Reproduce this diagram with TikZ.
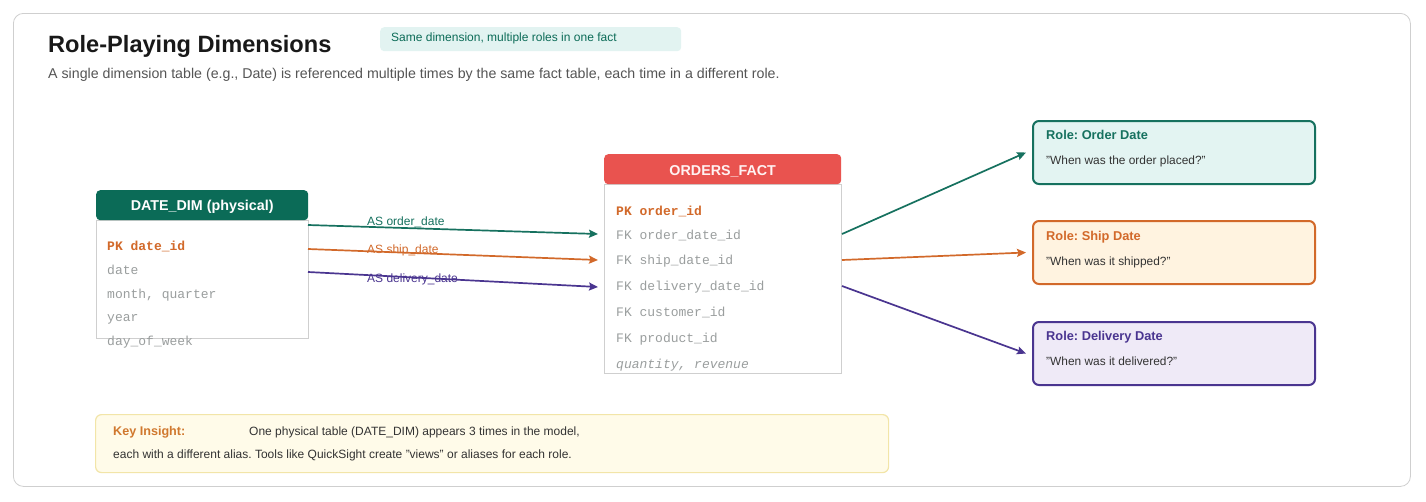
\documentclass[tikz,border=0pt]{standalone}
\usepackage{fontspec}
\setmainfont{Liberation Sans}
\setmonofont{Liberation Mono}
\usetikzlibrary{arrows.meta}
\frenchspacing
\definecolor{tealD}{HTML}{0B6B57}
\definecolor{tealA}{HTML}{16715F}
\definecolor{orangeA}{HTML}{D2692A}
\definecolor{purpleA}{HTML}{4A3590}
\definecolor{redH}{HTML}{E9534F}
\definecolor{rowgray}{HTML}{9A9E9E}
\definecolor{boxgray}{HTML}{CFCFCF}
\definecolor{tagfill}{HTML}{E2F3F1}
\definecolor{tealfill}{HTML}{E3F4F2}
\definecolor{orangefill}{HTML}{FFF3E0}
\definecolor{purplefill}{HTML}{EFEAF7}
\definecolor{keyfill}{HTML}{FFFBE9}
\definecolor{keyborder}{HTML}{F2E5A8}
\definecolor{keytitle}{HTML}{D0782E}
\definecolor{textdark}{HTML}{333333}
\definecolor{subgray}{HTML}{555555}
\tikzset{
  hdr/.style={draw=none, rounded corners=4pt, anchor=north west, inner sep=0pt, text=white, font=\fontsize{14}{16}\selectfont\bfseries},
  tbody/.style={draw=boxgray, fill=white, line width=0.8pt, anchor=north west, inner sep=0pt},
  row/.style={anchor=base west, inner sep=0pt, text=rowgray, font=\fontsize{13}{15}\selectfont\ttfamily},
  pkrow/.style={row, text=orangeA, font=\fontsize{13}{15}\selectfont\ttfamily\bfseries},
  lnk/.style={line width=1.7pt, -{Stealth[length=9pt,width=8pt,inset=1.5pt]}},
  alias/.style={anchor=west, inner sep=0pt, font=\fontsize{12}{14}\selectfont},
  rolebox/.style={line width=2pt, rounded corners=6pt, anchor=north west, inner sep=0pt, minimum width=282pt, minimum height=63pt},
  roletitle/.style={anchor=base west, inner sep=0pt, font=\fontsize{12.8}{14}\selectfont\bfseries},
  roledesc/.style={anchor=base west, inner sep=0pt, text=textdark, font=\fontsize{11.9}{14}\selectfont},
  keytext/.style={anchor=base west, inner sep=0pt, font=\fontsize{12}{14}\selectfont, text=textdark},
}
\begin{document}
\begin{tikzpicture}[x=1pt,y=-1pt]
\useasboundingbox (0,0) rectangle (1426,501);
\fill[white] (0,0) rectangle (1426,501);
\node[draw=boxgray, line width=0.8pt, rounded corners=10pt, anchor=north west, inner sep=0pt, minimum width=1397pt, minimum height=473pt] (frame) at (13,13) {};
% title
\node[anchor=base west, inner sep=0pt, font=\fontsize{23.6}{26}\selectfont\bfseries, text=black!90] (title) at (48,52) {Role-Playing Dimensions};
\node[anchor=base west, inner sep=0pt, font=\fontsize{14.2}{16}\selectfont, text=subgray] (subtitle) at (48,78) {A single dimension table (e.g., Date) is referenced multiple times by the same fact table, each time in a different role.};
\node[fill=tagfill, rounded corners=4pt, anchor=north west, inner sep=0pt, minimum width=301pt, minimum height=24pt] (tag) at (380,27) {};
\node[anchor=base west, inner sep=0pt, font=\fontsize{12}{14}\selectfont, text=tealD] (tagtext) at (391,41) {Same dimension, multiple roles in one fact};
% DATE_DIM
\node[tbody, minimum width=212pt, minimum height=118pt] (dimbody) at (96,220) {};
\node[hdr, fill=tealD, minimum width=212pt, minimum height=30pt] (dimhdr) at (96,190) {};
\node[text=white, font=\fontsize{14.3}{16}\selectfont\bfseries, inner sep=0pt] (dimtitle) at ([yshift=-2pt]dimhdr.center) {DATE\_DIM (physical)};
\node[pkrow] (d1) at (107,250) {PK date\_id};
\node[row] (d2) at (107,274) {date};
\node[row] (d3) at (107,298) {month, quarter};
\node[row] (d4) at (107,321) {year};
\node[row] (d5) at (107,345) {day\_of\_week};
% ORDERS_FACT
\node[tbody, minimum width=237pt, minimum height=189pt] (factbody) at (604,184) {};
\node[hdr, fill=redH, minimum width=237pt, minimum height=30pt] (facthdr) at (604,154) {};
\node[text=white!95!red, font=\fontsize{14.3}{16}\selectfont\bfseries, inner sep=0pt] (facttitle) at ([yshift=-2pt]facthdr.center) {ORDERS\_FACT};
\node[pkrow] (f1) at (616,215) {PK order\_id};
\node[row] (f2) at (616,239) {FK order\_date\_id};
\node[row] (f3) at (616,264) {FK ship\_date\_id};
\node[row] (f4) at (616,290) {FK delivery\_date\_id};
\node[row] (f5) at (616,316) {FK customer\_id};
\node[row] (f6) at (616,342) {FK product\_id};
\node[row, font=\fontsize{13}{15}\selectfont\ttfamily\itshape] (f7) at (616,368) {quantity, revenue};
% link coordinates
\coordinate (ds1) at (308,225);
\coordinate (ds2) at (308,249);
\coordinate (ds3) at (308,272);
\coordinate (ft1) at (598,234);
\coordinate (ft2) at (598,260);
\coordinate (ft3) at (598,287);
\coordinate (fs1) at (842,234);
\coordinate (fs2) at (842,260);
\coordinate (fs3) at (842,286);
\draw[lnk, draw=tealA, fill=tealA] (ds1) -- (ft1);
\draw[lnk, draw=orangeA, fill=orangeA] (ds2) -- (ft2);
\draw[lnk, draw=purpleA, fill=purpleA] (ds3) -- (ft3);
\node[alias, text=tealA] (a1) at (367,222) {AS order\_date};
\node[alias, text=orangeA] (a2) at (367,250) {AS ship\_date};
\node[alias, text=purpleA] (a3) at (367,279) {AS delivery\_date};
% roles
\node[rolebox, draw=tealA, fill=tealfill] (r1) at (1032,120) {};
\node[rolebox, draw=orangeA, fill=orangefill] (r2) at (1032,220) {};
\node[rolebox, draw=purpleA, fill=purplefill] (r3) at (1032,321) {};
\node[roletitle, text=tealA] (r1t) at (1046,139) {Role: Order Date};
\node[roledesc] (r1d) at (1046,164) {"When was the order placed?"};
\node[roletitle, text=orangeA] (r2t) at (1046,240) {Role: Ship Date};
\node[roledesc] (r2d) at (1046,265) {"When was it shipped?"};
\node[roletitle, text=purpleA] (r3t) at (1046,340) {Role: Delivery Date};
\node[roledesc] (r3d) at (1046,365) {"When was it delivered?"};
\draw[lnk, draw=tealA, fill=tealA] (fs1) -- ([xshift=-6pt]r1.west);
\draw[lnk, draw=orangeA, fill=orangeA] (fs2) -- ([xshift=-6pt]r2.west);
\draw[lnk, draw=purpleA, fill=purpleA] (fs3) -- ([xshift=-6pt]r3.west);
% key insight
\node[draw=keyborder, fill=keyfill, line width=1.2pt, rounded corners=6pt, anchor=north west, inner sep=0pt, minimum width=793pt, minimum height=58pt] (key) at (95,414) {};
\node[anchor=base west, inner sep=0pt, font=\fontsize{12.6}{14}\selectfont\bfseries, text=keytitle] (keyt) at (113,435) {Key Insight:};
\node[keytext] (key1) at (249,435) {One physical table (DATE\_DIM) appears 3 times in the model,};
\node[keytext] (key2) at (113,458) {each with a different alias. Tools like QuickSight create "views" or aliases for each role.};
\end{tikzpicture}
\end{document}
